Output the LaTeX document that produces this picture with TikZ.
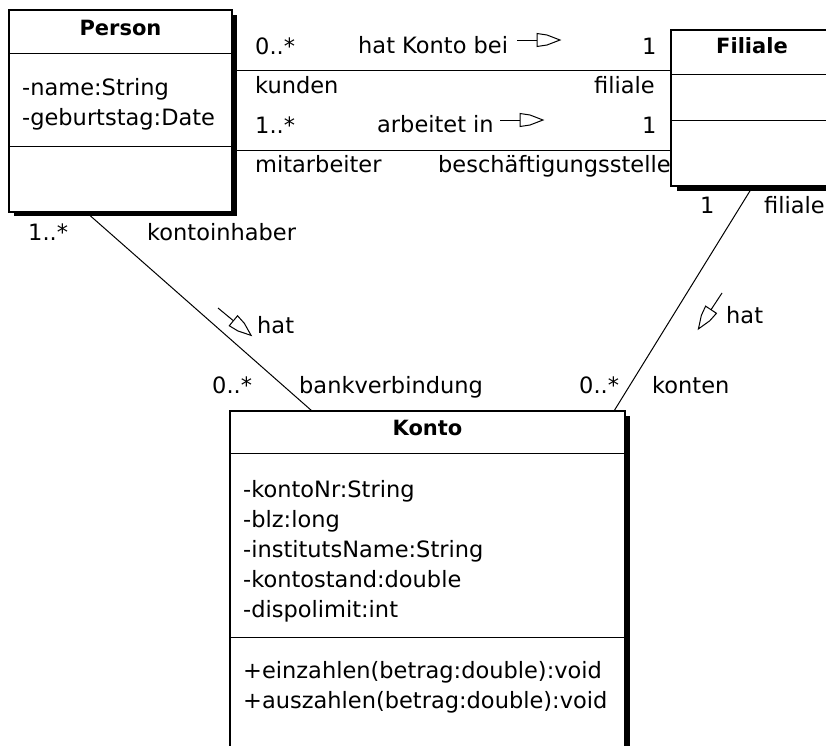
\documentclass[tikz,border=0pt]{standalone}
\usepackage{fontspec}
\setmainfont{DejaVu Sans}
\begin{document}
\begin{tikzpicture}[x=1pt,y=-1pt,
  box/.style={draw, line width=1.2pt, fill=white, inner sep=0pt, outer sep=0pt, anchor=north west},
  lbl/.style={anchor=base west, inner sep=0pt, font=\fontsize{22.5}{27}\selectfont},
  ttl/.style={anchor=base, inner sep=0pt, font=\fontsize{21}{25}\selectfont\bfseries},
  conn/.style={line width=1pt},
  divider/.style={line width=1pt},
  navarrow/.pic={
    \draw[line width=1pt] (0,0) -- (20,0);
    \draw[line width=1pt, line join=miter] (20,-6.5) -- (30,-5) -- (43,0) -- (30,5) -- (20,6.5) -- cycle;
  }
]
\useasboundingbox (0,0) rectangle (826,745);
\clip (0,0) rectangle (826,745);
\fill[white] (0,0) rectangle (826,745);

% shadows
\fill[black] (14,15) rectangle (237,216);
\fill[black] (677,36) rectangle (840,191);
\fill[black] (235,416) rectangle (630,780);

% class boxes
\node[box, minimum width=223pt, minimum height=202pt] (person) at (9,10) {};
\node[box, minimum width=164pt, minimum height=156pt] (filiale) at (671,30) {};
\node[box, minimum width=395pt, minimum height=360pt] (konto) at (230,411) {};

% compartments
\draw[divider] ([yshift=-43pt]person.north west) -- ([yshift=-43pt]person.north east);
\draw[divider] ([yshift=-136pt]person.north west) -- ([yshift=-136pt]person.north east);
\draw[divider] ([yshift=-44pt]filiale.north west) -- ([yshift=-44pt]filiale.north east);
\draw[divider] ([yshift=-90pt]filiale.north west) -- ([yshift=-90pt]filiale.north east);
\draw[divider] ([yshift=-42pt]konto.north west) -- ([yshift=-42pt]konto.north east);
\draw[divider] ([yshift=-226pt]konto.north west) -- ([yshift=-226pt]konto.north east);

% class texts
\node[ttl] (tperson) at (120.5,35) {Person};
\node[lbl] (pa1) at (22,95) {-name:String};
\node[lbl] (pa2) at (22,125) {-geburtstag:Date};

\node[ttl] (tfiliale) at (752,53) {Filiale};

\node[ttl] (tkonto) at (427.5,435) {Konto};
\node[lbl] (ka1) at (243,497) {-kontoNr:String};
\node[lbl] (ka2) at (243,527) {-blz:long};
\node[lbl] (ka3) at (243,557) {-institutsName:String};
\node[lbl] (ka4) at (243,587) {-kontostand:double};
\node[lbl] (ka5) at (243,617) {-dispolimit:int};
\node[lbl] (km1) at (243,678) {+einzahlen(betrag:double):void};
\node[lbl] (km2) at (243,708) {+auszahlen(betrag:double):void};

% connectors
\coordinate (ya) at (0,70);
\coordinate (yb) at (0,150);
\draw[conn] (person.east |- ya) -- (filiale.west |- ya);
\draw[conn] (person.east |- yb) -- (filiale.west |- yb);
\draw[conn] ([xshift=77pt]person.south west) -- ([xshift=82pt]konto.north west);
\draw[conn] ([xshift=82pt]filiale.south west) -- ([xshift=-11pt]konto.north east);

% association labels: Person - Filiale (hat Konto bei)
\node[lbl] (m1) at (255,54) {0..*};
\node[lbl] (n1) at (358,53) {hat Konto bei};
\node[lbl] (m2) at (642,54) {1};
\node[lbl] (r1) at (255,93) {kunden};
\node[lbl] (r2) at (594,93) {filiale};
% Person - Filiale (arbeitet in)
\node[lbl] (m3) at (255,133) {1..*};
\node[lbl] (n2) at (377,132) {arbeitet in};
\node[lbl] (m4) at (642,133) {1};
\node[lbl] (r3) at (255,172) {mitarbeiter};
\node[lbl] (r4) at (438,172) {beschäftigungsstelle};
% Person - Konto
\node[lbl] (m5) at (28,240) {1..*};
\node[lbl] (r5) at (147,240) {kontoinhaber};
\node[lbl] (n3) at (257,333) {hat};
\node[lbl] (m6) at (212,393) {0..*};
\node[lbl] (r6) at (299,393) {bankverbindung};
% Filiale - Konto
\node[lbl] (m7) at (700,213) {1};
\node[lbl] (r7) at (764,213) {filiale};
\node[lbl] (n4) at (726,323) {hat};
\node[lbl] (m8) at (579,393) {0..*};
\node[lbl] (r8) at (652,393) {konten};

% navigation arrows
\pic at (517,40) {navarrow};
\pic at (500,120) {navarrow};
\pic[rotate=-39.6] at (218,308) {navarrow};
\pic[rotate=-123.3] at (722,293) {navarrow};
\end{tikzpicture}
\end{document}
